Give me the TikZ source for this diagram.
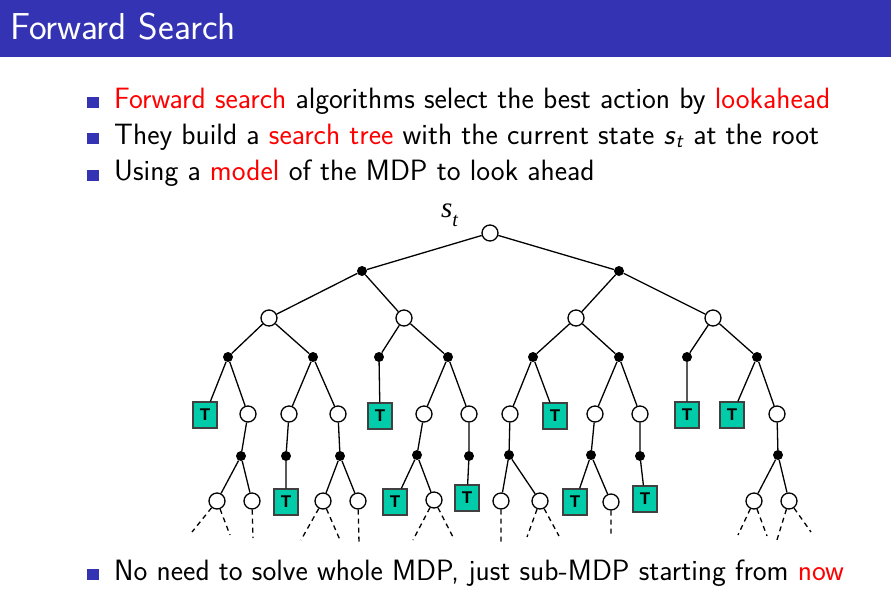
\documentclass[tikz,border=0pt]{standalone}
\usepackage{fontspec}
\newfontfamily\fsarial{Liberation Sans}
\newfontfamily\fstimes{Liberation Serif}
\usetikzlibrary{positioning}
\definecolor{fsblue}{RGB}{51,51,179}
\definecolor{fsred}{RGB}{255,0,0}
\definecolor{fsteal}{RGB}{0,204,170}
\tikzset{
  fsstate/.style={
    circle,
    draw=black,
    line width=1.3pt,
    fill=white,
    minimum size=16pt,
    inner sep=0pt
  },
  fsaction/.style={
    circle,
    fill=black,
    minimum size=10pt,
    inner sep=0pt
  },
  fsterm/.style={
    rectangle,
    draw=black!75,
    line width=1.3pt,
    fill=fsteal,
    minimum width=24pt,
    minimum height=26pt,
    inner sep=0pt,
    font=\fsarial\bfseries\fontsize{17}{17}\selectfont
  },
  fsedge/.style={
    line width=1.3pt,
    draw=black
  },
  fsdash/.style={
    line width=1.3pt,
    draw=black,
    dash pattern=on 5pt off 4pt
  },
  fsbullet/.style={
    rectangle,
    fill=fsblue,
    minimum width=12pt,
    minimum height=11pt,
    inner sep=0pt
  },
  fstext/.style={
    anchor=base west,
    inner sep=0pt,
    font=\sffamily\fontsize{29.4}{34}\selectfont
  }
}

\begin{document}
\begin{tikzpicture}[x=1pt,y=-1pt]
    \fill[white] (0,0) rectangle (891,590);
    \useasboundingbox (0,0) rectangle (891,590);
    \fill[fsblue] (0,0) rectangle (891,57);
    \node (title) [anchor=base west, inner sep=0pt, text=white, font=\sffamily\fontsize{37.5}{42}\selectfont] at (10,39) {Forward Search};

    % bullets
    \node (bul1) [fsbullet] at (93,102) {};
    \node (txt1) [fstext] at (114,108) {\textcolor{fsred}{Forward search} algorithms select the best action by \textcolor{fsred}{lookahead}};
    \node (bul2) [fsbullet] at (93,138) {};
    \node (txt2) [fstext] at (114,144) {They build a \textcolor{fsred}{search tree} with the current state \textit{s}\textsubscript{\textit{t}} at the root};
    \node (bul3) [fsbullet] at (93,175) {};
    \node (txt3) [fstext] at (114,180) {Using a \textcolor{fsred}{model} of the MDP to look ahead};
    \node (bul4) [fsbullet] at (93,574) {};
    \node (txt4) [fstext] at (114,580) {No need to solve whole MDP, just sub-MDP starting from \textcolor{fsred}{now}};

    % tree, top levels
    \node (stlabel) [anchor=base west, inner sep=0pt, font=\fstimes\itshape\fontsize{29}{30}\selectfont] at (441,217) {s\raisebox{-9pt}{\fontsize{20}{20}\selectfont t}};
    \node (root) [fsstate] at (490,233) {};
    \node (a1) [fsaction] at (362,271) {};
    \node (a2) [fsaction] at (619,271) {};
    \node (s1) [fsstate] at (269,318) {};
    \node (s2) [fsstate] at (404,318) {};
    \node (s3) [fsstate] at (576,318) {};
    \node (s4) [fsstate] at (713,318) {};
    \node (b1) [fsaction] at (228,357) {};
    \node (b2) [fsaction] at (313,357) {};
    \node (b3) [fsaction] at (379,357) {};
    \node (b4) [fsaction] at (448,357) {};
    \node (b5) [fsaction] at (533,357) {};
    \node (b6) [fsaction] at (619,357) {};
    \node (b7) [fsaction] at (687,357) {};
    \node (b8) [fsaction] at (757,357) {};

    % level of leaves and states
    \node (t1) [fsterm] at (205,415) {T};
    \node (u1) [fsstate] at (248,414) {};
    \node (u2) [fsstate] at (289,414) {};
    \node (u3) [fsstate] at (338,414) {};
    \node (t2) [fsterm] at (380,416) {T};
    \node (u4) [fsstate] at (424,414) {};
    \node (u5) [fsstate] at (469,414) {};
    \node (u6) [fsstate] at (510,414) {};
    \node (t3) [fsterm] at (555,416) {T};
    \node (u7) [fsstate] at (595,414) {};
    \node (u8) [fsstate] at (640,414) {};
    \node (t4) [fsterm] at (687,415) {T};
    \node (t5) [fsterm] at (732,415) {T};
    \node (u9) [fsstate] at (777,414) {};

    \node (c1) [fsaction] at (241,456) {};
    \node (c2) [fsaction] at (286,456) {};
    \node (c3) [fsaction] at (340,456) {};
    \node (c4) [fsaction] at (417,455) {};
    \node (c5) [fsaction] at (469,456) {};
    \node (c6) [fsaction] at (509,455) {};
    \node (c7) [fsaction] at (591,455) {};
    \node (c8) [fsaction] at (640,456) {};
    \node (c9) [fsaction] at (778,455) {};

    \node (v1) [fsstate] at (217,501) {};
    \node (v2) [fsstate] at (252,501) {};
    \node (t6) [fsterm] at (286,502) {T};
    \node (v3) [fsstate] at (323,501) {};
    \node (v4) [fsstate] at (358,501) {};
    \node (t7) [fsterm] at (395,502) {T};
    \node (v5) [fsstate] at (434,500) {};
    \node (t8) [fsterm] at (467,498) {T};
    \node (v6) [fsstate] at (501,501) {};
    \node (v7) [fsstate] at (540,501) {};
    \node (t9) [fsterm] at (575,502) {T};
    \node (v8) [fsstate] at (611,502) {};
    \node (t10) [fsterm] at (645,499) {T};
    \node (v9) [fsstate] at (754,501) {};
    \node (v10) [fsstate] at (789,501) {};

    % loose ends of the dashed branches
    \coordinate (e1) at (192,532);
    \coordinate (e2) at (230,535);
    \coordinate (e3) at (253,538);
    \coordinate (e4) at (301,540);
    \coordinate (e5) at (340,540);
    \coordinate (e6) at (359,543);
    \coordinate (e7) at (413,540);
    \coordinate (e8) at (453,537);
    \coordinate (e9) at (501,543);
    \coordinate (e10) at (527,537);
    \coordinate (e11) at (559,536);
    \coordinate (e12) at (611,537);
    \coordinate (e13) at (738,535);
    \coordinate (e14) at (767,536);
    \coordinate (e15) at (776,543);
    \coordinate (e16) at (811,532);

    \draw[fsedge] (root) -- (a1) (root) -- (a2);
    \draw[fsedge] (a1) -- (s1) (a1) -- (s2) (a2) -- (s3) (a2) -- (s4);
    \draw[fsedge] (s1) -- (b1) (s1) -- (b2) (s2) -- (b3) (s2) -- (b4);
    \draw[fsedge] (s3) -- (b5) (s3) -- (b6) (s4) -- (b7) (s4) -- (b8);
    \draw[fsedge] (b1) -- (t1) (b1) -- (u1) (b2) -- (u2) (b2) -- (u3);
    \draw[fsedge] (b3) -- (t2) (b4) -- (u4) (b4) -- (u5) (b5) -- (u6);
    \draw[fsedge] (b5) -- (t3) (b6) -- (u7) (b6) -- (u8) (b7) -- (t4);
    \draw[fsedge] (b8) -- (t5) (b8) -- (u9);
    \draw[fsedge] (u1) -- (c1) (u2) -- (c2) (u3) -- (c3) (u4) -- (c4) (u5) -- (c5);
    \draw[fsedge] (u6) -- (c6) (u7) -- (c7) (u8) -- (c8) (u9) -- (c9);
    \draw[fsedge] (c1) -- (v1) (c1) -- (v2) (c2) -- (t6) (c3) -- (v3) (c3) -- (v4);
    \draw[fsedge] (c4) -- (t7) (c4) -- (v5) (c5) -- (t8) (c6) -- (v6) (c6) -- (v7);
    \draw[fsedge] (c7) -- (t9) (c7) -- (v8) (c8) -- (t10) (c9) -- (v9) (c9) -- (v10);

    \draw[fsdash] (v1) -- (e1) (v1) -- (e2) (v2) -- (e3);
    \draw[fsdash] (v3) -- (e4) (v3) -- (e5) (v4) -- (e6);
    \draw[fsdash] (v5) -- (e7) (v5) -- (e8) (v6) -- (e9);
    \draw[fsdash] (v7) -- (e10) (v7) -- (e11) (v8) -- (e12);
    \draw[fsdash] (v9) -- (e13) (v9) -- (e14) (v10) -- (e15) (v10) -- (e16);
  \end{tikzpicture}
\end{document}
